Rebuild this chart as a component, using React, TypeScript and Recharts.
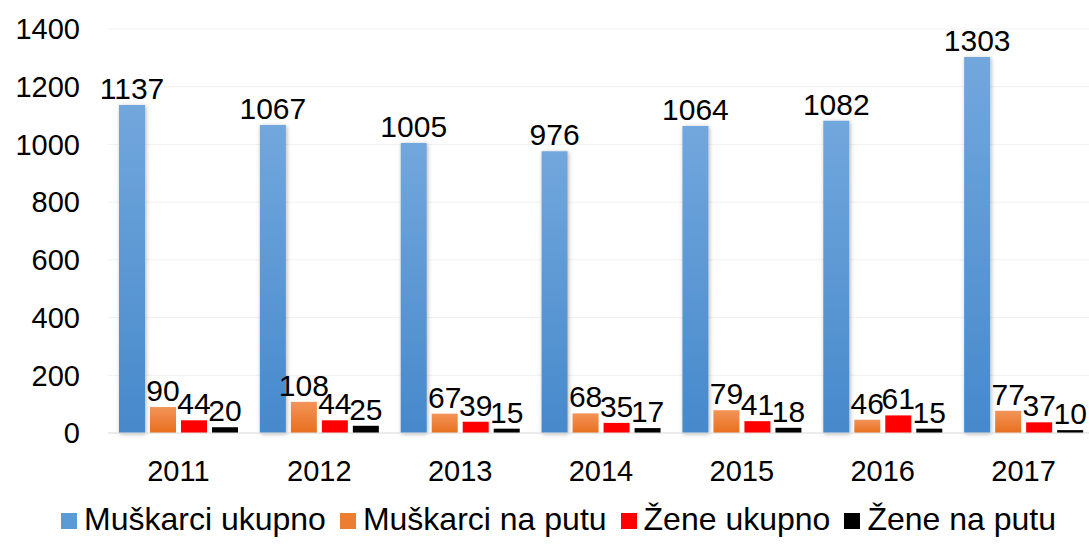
import React from 'react';
import { BarChart, Bar, XAxis, YAxis, CartesianGrid, Legend, LabelList } from 'recharts';

const years = ['2011', '2012', '2013', '2014', '2015', '2016', '2017'];
const muskarciUkupno = [1137, 1067, 1005, 976, 1064, 1082, 1303];
const muskarciNaPutu = [90, 108, 67, 68, 79, 46, 77];
const zeneUkupno = [44, 44, 39, 35, 41, 61, 37];
const zeneNaPutu = [20, 25, 15, 17, 18, 15, 10];
const yTicks = [0, 200, 400, 600, 800, 1000, 1200, 1400];

const seriesKeys = ['mu', 'mp', 'zu', 'zp'];
const seriesNames = ['Muškarci ukupno', 'Muškarci na putu', 'Žene ukupno', 'Žene na putu'];

const data = years.map((y, i) => ({
  year: y,
  mu: muskarciUkupno[i],
  mp: muskarciNaPutu[i],
  zu: zeneUkupno[i],
  zp: zeneNaPutu[i],
}));

const FONT = "'Liberation Sans', Arial, Helvetica, sans-serif";

const legendSwatch: Record<string, string> = {
  mu: '#5b9bd5',
  mp: '#ed7d31',
  zu: '#ff0000',
  zp: '#000000',
};

const renderLegend = (props: any) => {
  const payload = [...(props.payload || [])].sort(
    (a: any, b: any) => seriesKeys.indexOf(a.dataKey) - seriesKeys.indexOf(b.dataKey)
  );
  return (
    <div
      style={{
        display: 'flex',
        justifyContent: 'flex-start',
        alignItems: 'center',
        paddingLeft: 61,
        fontFamily: FONT,
        fontSize: 32,
        color: '#000',
        lineHeight: '36px',
        whiteSpace: 'nowrap',
      }}
    >
      {payload.map((p: any) => (
        <div key={p.dataKey} style={{ display: 'flex', alignItems: 'center', marginRight: 14 }}>
          <div style={{ width: 16, height: 16, background: legendSwatch[p.dataKey], marginRight: 7, marginTop: 4 }} />
          <span>{p.value}</span>
        </div>
      ))}
    </div>
  );
};

const labelStyle = { fontFamily: FONT, fontSize: 30, fill: '#000' };

export default function App() {
  return (
    <div style={{ position: 'absolute', left: 0, top: 0, width: 1089, height: 547, overflow: 'hidden', background: '#fff' }}>
      <BarChart
        width={1100}
        height={547}
        data={data}
        margin={{ top: 29, right: 6, left: 0, bottom: 0 }}
        barCategoryGap={11}
        barGap={5}
      >
        <defs>
          <linearGradient id="gBlue" x1="0" y1="0" x2="0" y2="1">
            <stop offset="0%" stopColor="#72a7dd" />
            <stop offset="100%" stopColor="#4689cb" />
          </linearGradient>
          <linearGradient id="gOrange" x1="0" y1="0" x2="0" y2="1">
            <stop offset="0%" stopColor="#f39459" />
            <stop offset="100%" stopColor="#e86f1d" />
          </linearGradient>
          <filter id="shadow" x="-30%" y="-5%" width="160%" height="115%">
            <feDropShadow dx="1" dy="1" stdDeviation="2" floodColor="#000" floodOpacity="0.3" />
          </filter>
        </defs>
        <CartesianGrid vertical={false} stroke="#f0f0f0" />
        <XAxis
          dataKey="year"
          tickLine={false}
          axisLine={{ stroke: '#e0e0e0' }}
          tickSize={0}
          tickMargin={27}
          height={70}
          tick={{ fontFamily: FONT, fontSize: 29, fill: '#000' }}
          interval={0}
        />
        <YAxis
          domain={[0, 1400]}
          ticks={yTicks}
          tickLine={false}
          axisLine={false}
          tickSize={0}
          tickMargin={28}
          width={108}
          tick={{ fontFamily: FONT, fontSize: 29, fill: '#000' }}
          interval={0}
        />
        <Legend content={renderLegend} verticalAlign="bottom" height={44} wrapperStyle={{ left: 0, bottom: 2 }} />
        <Bar dataKey="mu" name={seriesNames[0]} fill="url(#gBlue)" isAnimationActive={false} filter="url(#shadow)">
          <LabelList dataKey="mu" position="top" offset={6} style={labelStyle} />
        </Bar>
        <Bar dataKey="mp" name={seriesNames[1]} fill="url(#gOrange)" isAnimationActive={false}>
          <LabelList dataKey="mp" position="top" offset={6} style={labelStyle} />
        </Bar>
        <Bar dataKey="zu" name={seriesNames[2]} fill="#ff0000" isAnimationActive={false}>
          <LabelList dataKey="zu" position="top" offset={6} style={labelStyle} />
        </Bar>
        <Bar dataKey="zp" name={seriesNames[3]} fill="#000000" isAnimationActive={false}>
          <LabelList dataKey="zp" position="top" offset={6} style={labelStyle} />
        </Bar>
      </BarChart>
    </div>
  );
}
